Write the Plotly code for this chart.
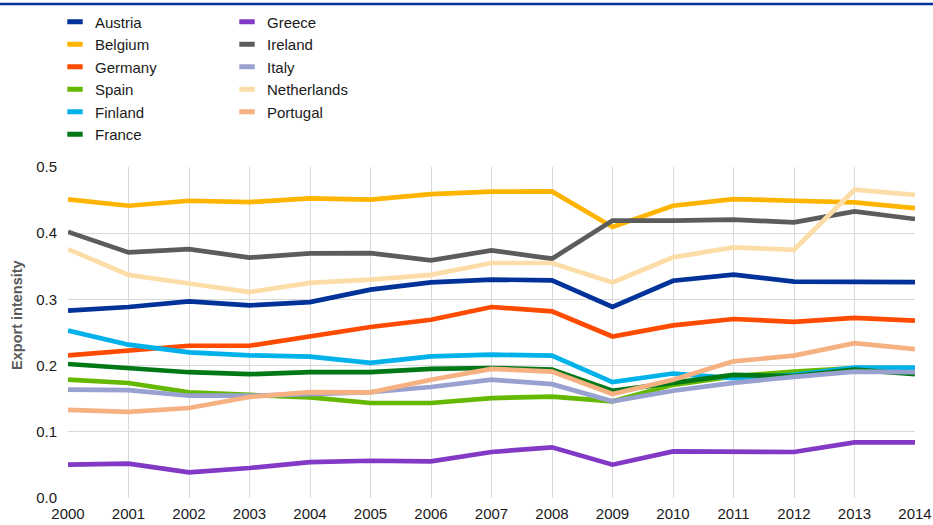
import plotly.graph_objects as go

years = list(range(2000, 2015))

austria = [0.283, 0.2885, 0.297, 0.291, 0.296, 0.3147, 0.3257, 0.330, 0.3287, 0.2885, 0.3282, 0.3373, 0.327, 0.3257, 0.326]
belgium = [0.451, 0.4415, 0.449, 0.447, 0.4526, 0.4506, 0.459, 0.4627, 0.4632, 0.4094, 0.4415, 0.4516, 0.449, 0.4466, 0.438]
germany = [0.2155, 0.223, 0.230, 0.230, 0.245, 0.2583, 0.2693, 0.2885, 0.282, 0.244, 0.2607, 0.2704, 0.266, 0.272, 0.268]
spain = [0.1787, 0.1737, 0.1596, 0.156, 0.152, 0.1435, 0.1435, 0.151, 0.153, 0.146, 0.171, 0.1837, 0.191, 0.1964, 0.192]
finland = [0.253, 0.2316, 0.220, 0.2155, 0.2135, 0.204, 0.214, 0.2165, 0.215, 0.175, 0.188, 0.181, 0.186, 0.197, 0.197]
france = [0.2024, 0.197, 0.190, 0.187, 0.190, 0.190, 0.195, 0.1964, 0.194, 0.162, 0.1737, 0.186, 0.184, 0.194, 0.187]
greece = [0.0503, 0.0518, 0.0387, 0.0453, 0.0541, 0.0563, 0.0553, 0.0695, 0.0765, 0.0503, 0.0704, 0.0704, 0.0695, 0.084, 0.084]
ireland = [0.402, 0.371, 0.376, 0.363, 0.3695, 0.370, 0.359, 0.374, 0.3615, 0.419, 0.419, 0.4204, 0.4163, 0.433, 0.4214]
italy = [0.1636, 0.163, 0.1545, 0.1545, 0.157, 0.160, 0.1677, 0.1787, 0.172, 0.146, 0.162, 0.174, 0.183, 0.191, 0.190]
netherlands = [0.376, 0.337, 0.324, 0.311, 0.325, 0.3298, 0.337, 0.355, 0.355, 0.3257, 0.3635, 0.3786, 0.375, 0.4657, 0.458]
portugal = [0.133, 0.130, 0.136, 0.1526, 0.160, 0.1595, 0.1787, 0.195, 0.191, 0.157, 0.1787, 0.2064, 0.215, 0.234, 0.225]

names = ["Austria", "Belgium", "Germany", "Spain", "Finland", "France",
         "Greece", "Ireland", "Italy", "Netherlands", "Portugal"]
series = [austria, belgium, germany, spain, finland, france,
          greece, ireland, italy, netherlands, portugal]
colors = ["#003299", "#FFB400", "#FF4B00", "#65B800", "#00B1EA", "#007816",
          "#8139C6", "#5C5C5C", "#98A1D0", "#FDDDA7", "#F6B183"]

y_ticks = [0.0, 0.1, 0.2, 0.3, 0.4, 0.5]
y_ticklabels = ["0.0", "0.1", "0.2", "0.3", "0.4", "0.5"]

FONT = "Arial, Liberation Sans, sans-serif"

fig = go.Figure()
for name, vals, col in zip(names, series, colors):
    fig.add_trace(go.Scatter(x=years, y=vals, mode="lines", name=name,
                             line=dict(color=col, width=4.7),
                             showlegend=False, hoverinfo="x+y+name"))

for i, (name, col) in enumerate(zip(names, colors)):
    fig.add_trace(go.Scatter(x=[None], y=[None], mode="markers", name=name,
                             marker=dict(symbol="line-ew", size=11, color=col,
                                         line=dict(color=col, width=5)),
                             legend="legend" if i < 6 else "legend2"))

legend_common = dict(font=dict(family=FONT, size=15, color="#1a1a1a"),
                     bgcolor="rgba(0,0,0,0)", borderwidth=0, tracegroupgap=0,
                     xref="container", yref="container",
                     xanchor="left", yanchor="top", orientation="v")

fig.update_layout(
    width=933, height=525,
    margin=dict(l=68, r=18, t=167, b=27, autoexpand=False),
    paper_bgcolor="white", plot_bgcolor="white",
    font=dict(family=FONT, size=15, color="#1a1a1a"),
    legend=dict(x=55 / 933, y=1 - 5.5 / 525, **legend_common),
    legend2=dict(x=227 / 933, y=1 - 5.5 / 525, **legend_common),
    xaxis=dict(range=[2000, 2014], tickmode="array", tickvals=years,
               ticktext=[str(y) for y in years], showgrid=True,
               gridcolor="#D9D9D9", gridwidth=1, zeroline=False,
               showline=False, ticks="", ticklabelstandoff=5,
               tickfont=dict(size=15, family=FONT, color="#1a1a1a")),
    yaxis=dict(range=[0, 0.5], tickmode="array", tickvals=y_ticks,
               ticktext=y_ticklabels, showgrid=True, gridcolor="#D9D9D9",
               gridwidth=1, zeroline=False, showline=False, ticks="",
               ticklabelstandoff=10,
               tickfont=dict(size=15, family=FONT, color="#1a1a1a")),
    shapes=[dict(type="line", xref="paper", yref="paper",
                 x0=-0.2, x1=1.2, y0=(498 - 4) / 331, y1=(498 - 4) / 331,
                 line=dict(color="#003299", width=2.5))],
    annotations=[dict(text="<b>Export intensity</b>", textangle=-90,
                      xref="paper", yref="paper", x=-51 / 847, y=0.553,
                      xanchor="center", yanchor="middle", showarrow=False,
                      font=dict(family=FONT, size=14.5, color="#595959"))],
)

fig.write_html("out.html", config={"displayModeBar": False},
               post_script="document.body.style.margin='0px';document.body.style.overflow='hidden';")
